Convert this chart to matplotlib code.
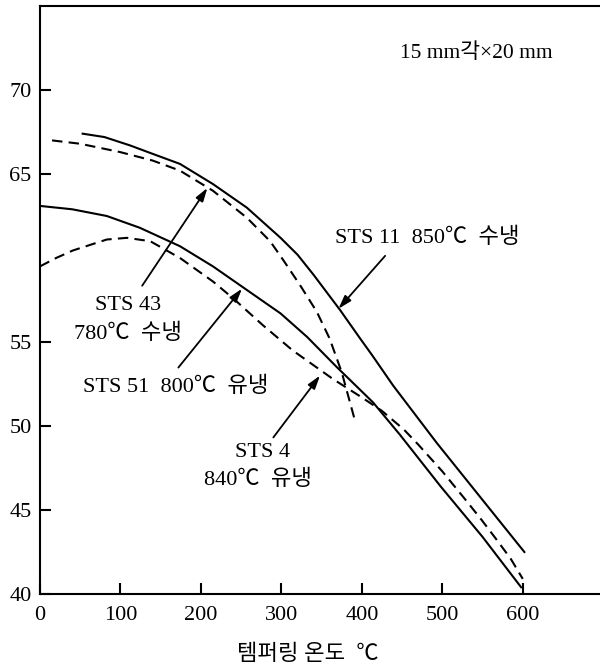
import matplotlib
matplotlib.use("Agg")
import matplotlib.pyplot as plt

# ---- data ----
sts11_x = [53, 80, 112, 140, 174, 215, 257, 299, 320, 340, 373, 398, 413, 439, 493, 550, 602]
sts11_y = [67.4, 67.2, 66.7, 66.2, 65.6, 64.4, 63.0, 61.2, 60.2, 59.0, 56.9, 55.2, 54.2, 52.4, 49.0, 45.6, 42.5]

sts43_x = [15, 50, 100, 140, 174, 215, 257, 286, 302, 323, 344, 360, 375, 391]
sts43_y = [67.0, 66.8, 66.3, 65.8, 65.2, 64.0, 62.4, 61.0, 59.9, 58.4, 56.8, 55.2, 53.2, 50.4]

sts51_x = [0, 40, 83, 124, 174, 215, 257, 299, 332, 369, 414, 447, 498, 550, 598]
sts51_y = [63.1, 62.9, 62.5, 61.8, 60.7, 59.5, 58.1, 56.7, 55.3, 53.5, 51.4, 49.5, 46.4, 43.4, 40.4]

sts4_x = [0, 20, 41, 83, 108, 137, 174, 215, 240, 277, 314, 364, 400, 425, 452, 470,
          500, 529, 549, 568, 585, 600]
sts4_y = [59.5, 60.0, 60.45, 61.1, 61.2, 61.0, 60.0, 58.6, 57.6, 56.0, 54.5, 52.8, 51.7, 50.9,
          49.8, 48.9, 47.3, 45.6, 44.4, 43.2, 42.1, 40.9]

x_ticks = [0, 100, 200, 300, 400, 500, 600]
y_ticks = [40, 45, 50, 55, 65, 70]

xlabel = "템퍼링 온도  ℃"
note = "15 mm각×20 mm"
lab11 = "STS 11  850℃  수냉"
lab43a = "STS 43"
lab43b = "780℃  수냉"
lab51 = "STS 51  800℃  유냉"
lab4a = "STS 4"
lab4b = "840℃  유냉"

FAM = ["Liberation Serif", "Noto Sans CJK KR", "DejaVu Sans"]
plt.rcParams['font.family'] = FAM

fig = plt.figure(figsize=(6.0, 6.68), dpi=100)
ax = fig.add_axes([40/600, 1 - 594/668, 1 - 40/600, (594 - 6)/668])

lw = 1.5
dash = (0, (5, 3))
ax.plot(sts11_x, sts11_y, color='black', lw=lw)
ax.plot(sts43_x, sts43_y, color='black', lw=lw, linestyle=dash)
ax.plot(sts51_x, sts51_y, color='black', lw=lw)
ax.plot(sts4_x, sts4_y, color='black', lw=lw, linestyle=dash)

ax.set_xlim(0, 696)
ax.set_ylim(40, 75)
ax.spines['right'].set_visible(False)
for s in ['left', 'bottom', 'top']:
    ax.spines[s].set_linewidth(1.5)

ax.set_xticks(x_ticks)
ax.set_yticks(y_ticks)
ax.set_xticklabels([str(v) for v in x_ticks])
ax.set_yticklabels([str(v) for v in y_ticks])
ax.tick_params(axis='x', direction='in', length=8, width=1.5, pad=9, labelsize=16)
ax.tick_params(axis='y', direction='in', length=8, width=1.5, pad=6, labelsize=16)

fs = 16
ax.text(367, 61.2, lab11, fontsize=fs, ha='left', va='center')
ax.text(109, 57.2, lab43a, fontsize=fs, ha='center', va='center')
ax.text(109, 55.5, lab43b, fontsize=fs, ha='center', va='center')
ax.text(169, 52.35, lab51, fontsize=fs, ha='center', va='center')
ax.text(276, 48.45, lab4a, fontsize=fs, ha='center', va='center')
ax.text(271, 46.8, lab4b, fontsize=fs, ha='center', va='center')
ax.text(448, 72.2, note, fontsize=15.5, ha='left', va='center')

ap = dict(arrowstyle='-|>,head_length=0.8,head_width=0.25', color='black', lw=1.3,
          shrinkA=0, shrinkB=0)
ax.annotate('', xy=(371, 56.98), xytext=(429, 60.13), arrowprops=ap)
ax.annotate('', xy=(208, 64.17), xytext=(127, 58.35), arrowprops=ap)
ax.annotate('', xy=(251, 58.17), xytext=(172, 53.48), arrowprops=ap)
ax.annotate('', xy=(348, 53.0), xytext=(290, 49.32), arrowprops=ap)

fig.text(308/600, 1 - 655/668, xlabel, fontsize=16, ha='center', va='center')

fig.savefig('out.png', dpi=100)
